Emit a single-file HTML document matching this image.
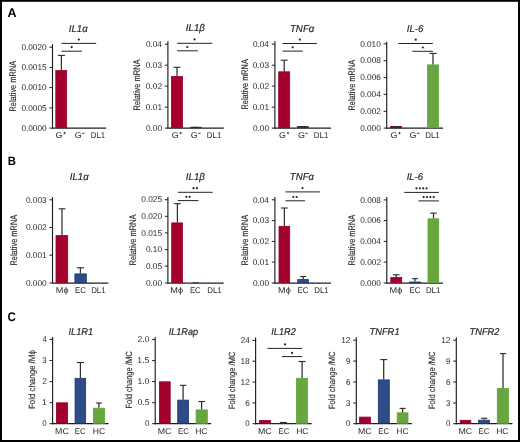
<!DOCTYPE html>
<html><head><meta charset="utf-8"><style>
html,body{margin:0;padding:0;background:#fff;}
body{width:520px;height:442px;overflow:hidden;position:relative;}
svg{position:absolute;left:0;top:0;font-family:"Liberation Sans", sans-serif;will-change:transform;text-rendering:geometricPrecision;}
text{stroke:none;}
text[font-style=italic]{stroke:#262626;stroke-width:0.18px;}
text.yl{stroke:#262626;stroke-width:0.12px;}
</style></head><body>
<svg width="520" height="442" viewBox="0 0 520 442">
<rect x="0" y="0" width="520" height="442" fill="#fff"/>
<line x1="52.50" y1="44.20" x2="52.50" y2="128.70" stroke="#1e1e1e" stroke-width="1.15"/>
<line x1="51.95" y1="128.10" x2="106.20" y2="128.10" stroke="#1e1e1e" stroke-width="1.25"/>
<line x1="49.40" y1="47.20" x2="52.50" y2="47.20" stroke="#1e1e1e" stroke-width="1.0"/>
<text x="21.38" y="49.95" font-size="8.3" textLength="25.24" lengthAdjust="spacingAndGlyphs" fill="#262626">0.0020</text>
<line x1="49.40" y1="67.40" x2="52.50" y2="67.40" stroke="#1e1e1e" stroke-width="1.0"/>
<text x="21.38" y="70.15" font-size="8.3" textLength="25.27" lengthAdjust="spacingAndGlyphs" fill="#262626">0.0015</text>
<line x1="49.40" y1="87.60" x2="52.50" y2="87.60" stroke="#1e1e1e" stroke-width="1.0"/>
<text x="21.38" y="90.35" font-size="8.3" textLength="25.24" lengthAdjust="spacingAndGlyphs" fill="#262626">0.0010</text>
<line x1="49.40" y1="107.90" x2="52.50" y2="107.90" stroke="#1e1e1e" stroke-width="1.0"/>
<text x="21.38" y="110.65" font-size="8.3" textLength="25.27" lengthAdjust="spacingAndGlyphs" fill="#262626">0.0005</text>
<line x1="49.40" y1="128.10" x2="52.50" y2="128.10" stroke="#1e1e1e" stroke-width="1.0"/>
<text x="21.38" y="130.85" font-size="8.3" textLength="25.24" lengthAdjust="spacingAndGlyphs" fill="#262626">0.0000</text>
<rect x="55.80" y="70.50" width="10.85" height="57.20" fill="#a4002e" stroke="#940028" stroke-width="0.8"/>
<line x1="61.40" y1="55.40" x2="61.40" y2="70.10" stroke="#2e2e2e" stroke-width="1.25"/>
<line x1="57.90" y1="55.40" x2="64.90" y2="55.40" stroke="#2a2a2a" stroke-width="1.1"/>
<text x="55.55" y="138.00" font-size="8.4" textLength="6.91" lengthAdjust="spacingAndGlyphs" fill="#262626">G</text>
<line x1="63.45" y1="133.10" x2="65.75" y2="133.10" stroke="#333" stroke-width="0.85"/>
<line x1="64.60" y1="131.90" x2="64.60" y2="134.30" stroke="#333" stroke-width="0.85"/>
<text x="74.75" y="138.00" font-size="8.4" textLength="6.91" lengthAdjust="spacingAndGlyphs" fill="#262626">G</text>
<line x1="82.10" y1="133.30" x2="84.70" y2="133.30" stroke="#333" stroke-width="0.9"/>
<text x="90.70" y="138.00" font-size="8.4" textLength="14.54" lengthAdjust="spacingAndGlyphs" fill="#262626">DL1</text>
<text x="68.82" y="31.60" font-size="9.9" font-style="italic" textLength="18.96" lengthAdjust="spacingAndGlyphs" fill="#262626">IL1α</text>
<text class="yl" transform="translate(16.20,111.00) rotate(-90)" x="-0.61" y="0" font-size="9.5" textLength="50.82" lengthAdjust="spacingAndGlyphs" fill="#262626">Relative mRNA</text>
<line x1="61.50" y1="43.40" x2="96.20" y2="43.40" stroke="#222" stroke-width="1.0"/>
<line x1="61.50" y1="51.20" x2="81.90" y2="51.20" stroke="#222" stroke-width="1.0"/>
<circle cx="78.80" cy="39.6" r="1.1" fill="#222"/>
<circle cx="71.70" cy="47.1" r="1.1" fill="#222"/>
<line x1="167.90" y1="41.30" x2="167.90" y2="128.70" stroke="#1e1e1e" stroke-width="1.15"/>
<line x1="167.35" y1="128.10" x2="223.80" y2="128.10" stroke="#1e1e1e" stroke-width="1.25"/>
<line x1="164.80" y1="44.20" x2="167.90" y2="44.20" stroke="#1e1e1e" stroke-width="1.0"/>
<text x="145.88" y="46.95" font-size="8.3" textLength="16.06" lengthAdjust="spacingAndGlyphs" fill="#262626">0.04</text>
<line x1="164.80" y1="65.20" x2="167.90" y2="65.20" stroke="#1e1e1e" stroke-width="1.0"/>
<text x="145.88" y="67.95" font-size="8.3" textLength="16.19" lengthAdjust="spacingAndGlyphs" fill="#262626">0.03</text>
<line x1="164.80" y1="86.10" x2="167.90" y2="86.10" stroke="#1e1e1e" stroke-width="1.0"/>
<text x="145.87" y="88.85" font-size="8.3" textLength="16.25" lengthAdjust="spacingAndGlyphs" fill="#262626">0.02</text>
<line x1="164.80" y1="107.10" x2="167.90" y2="107.10" stroke="#1e1e1e" stroke-width="1.0"/>
<text x="145.87" y="109.85" font-size="8.3" textLength="16.23" lengthAdjust="spacingAndGlyphs" fill="#262626">0.01</text>
<line x1="164.80" y1="128.10" x2="167.90" y2="128.10" stroke="#1e1e1e" stroke-width="1.0"/>
<text x="145.88" y="130.85" font-size="8.3" textLength="16.15" lengthAdjust="spacingAndGlyphs" fill="#262626">0.00</text>
<rect x="171.45" y="76.40" width="11.01" height="51.30" fill="#a4002e" stroke="#940028" stroke-width="0.8"/>
<rect x="189.90" y="126.90" width="11.90" height="1.20" fill="#1b3571"/>
<line x1="177.00" y1="67.30" x2="177.00" y2="76.00" stroke="#2e2e2e" stroke-width="1.25"/>
<line x1="173.50" y1="67.30" x2="180.50" y2="67.30" stroke="#2a2a2a" stroke-width="1.1"/>
<line x1="195.60" y1="127.30" x2="195.60" y2="127.30" stroke="#2e2e2e" stroke-width="1.25"/>
<line x1="192.20" y1="127.30" x2="199.00" y2="127.30" stroke="#2a2a2a" stroke-width="1.1"/>
<text x="171.65" y="138.00" font-size="8.4" textLength="6.91" lengthAdjust="spacingAndGlyphs" fill="#262626">G</text>
<line x1="179.55" y1="133.10" x2="181.85" y2="133.10" stroke="#333" stroke-width="0.85"/>
<line x1="180.70" y1="131.90" x2="180.70" y2="134.30" stroke="#333" stroke-width="0.85"/>
<text x="190.75" y="138.00" font-size="8.4" textLength="6.91" lengthAdjust="spacingAndGlyphs" fill="#262626">G</text>
<line x1="198.10" y1="133.30" x2="200.70" y2="133.30" stroke="#333" stroke-width="0.9"/>
<text x="206.80" y="138.00" font-size="8.4" textLength="14.54" lengthAdjust="spacingAndGlyphs" fill="#262626">DL1</text>
<text x="185.82" y="31.20" font-size="9.9" font-style="italic" textLength="19.02" lengthAdjust="spacingAndGlyphs" fill="#262626">IL1β</text>
<text class="yl" transform="translate(140.40,109.90) rotate(-90)" x="-0.61" y="0" font-size="9.5" textLength="51.03" lengthAdjust="spacingAndGlyphs" fill="#262626">Relative mRNA</text>
<line x1="177.20" y1="43.30" x2="212.40" y2="43.30" stroke="#222" stroke-width="1.0"/>
<line x1="177.20" y1="50.80" x2="197.80" y2="50.80" stroke="#222" stroke-width="1.0"/>
<circle cx="194.50" cy="39.4" r="1.1" fill="#222"/>
<circle cx="187.30" cy="47.1" r="1.1" fill="#222"/>
<line x1="274.90" y1="41.30" x2="274.90" y2="128.70" stroke="#1e1e1e" stroke-width="1.15"/>
<line x1="274.35" y1="128.10" x2="331.00" y2="128.10" stroke="#1e1e1e" stroke-width="1.25"/>
<line x1="271.80" y1="44.20" x2="274.90" y2="44.20" stroke="#1e1e1e" stroke-width="1.0"/>
<text x="252.88" y="46.95" font-size="8.3" textLength="16.06" lengthAdjust="spacingAndGlyphs" fill="#262626">0.04</text>
<line x1="271.80" y1="65.20" x2="274.90" y2="65.20" stroke="#1e1e1e" stroke-width="1.0"/>
<text x="252.88" y="67.95" font-size="8.3" textLength="16.19" lengthAdjust="spacingAndGlyphs" fill="#262626">0.03</text>
<line x1="271.80" y1="86.10" x2="274.90" y2="86.10" stroke="#1e1e1e" stroke-width="1.0"/>
<text x="252.87" y="88.85" font-size="8.3" textLength="16.25" lengthAdjust="spacingAndGlyphs" fill="#262626">0.02</text>
<line x1="271.80" y1="107.10" x2="274.90" y2="107.10" stroke="#1e1e1e" stroke-width="1.0"/>
<text x="252.87" y="109.85" font-size="8.3" textLength="16.23" lengthAdjust="spacingAndGlyphs" fill="#262626">0.01</text>
<line x1="271.80" y1="128.10" x2="274.90" y2="128.10" stroke="#1e1e1e" stroke-width="1.0"/>
<text x="252.88" y="130.85" font-size="8.3" textLength="16.15" lengthAdjust="spacingAndGlyphs" fill="#262626">0.00</text>
<rect x="278.70" y="71.80" width="11.00" height="55.90" fill="#a4002e" stroke="#940028" stroke-width="0.8"/>
<rect x="296.90" y="126.10" width="11.90" height="2.00" fill="#1b3571"/>
<line x1="284.20" y1="60.20" x2="284.20" y2="71.40" stroke="#2e2e2e" stroke-width="1.25"/>
<line x1="280.70" y1="60.20" x2="287.70" y2="60.20" stroke="#2a2a2a" stroke-width="1.1"/>
<line x1="302.60" y1="126.60" x2="302.60" y2="126.60" stroke="#2e2e2e" stroke-width="1.25"/>
<line x1="299.00" y1="126.60" x2="306.20" y2="126.60" stroke="#2a2a2a" stroke-width="1.1"/>
<text x="278.95" y="138.00" font-size="8.4" textLength="6.91" lengthAdjust="spacingAndGlyphs" fill="#262626">G</text>
<line x1="286.85" y1="133.10" x2="289.15" y2="133.10" stroke="#333" stroke-width="0.85"/>
<line x1="288.00" y1="131.90" x2="288.00" y2="134.30" stroke="#333" stroke-width="0.85"/>
<text x="297.95" y="138.00" font-size="8.4" textLength="6.91" lengthAdjust="spacingAndGlyphs" fill="#262626">G</text>
<line x1="305.30" y1="133.30" x2="307.90" y2="133.30" stroke="#333" stroke-width="0.9"/>
<text x="313.80" y="138.00" font-size="8.4" textLength="14.54" lengthAdjust="spacingAndGlyphs" fill="#262626">DL1</text>
<text x="289.93" y="31.60" font-size="9.9" font-style="italic" textLength="24.45" lengthAdjust="spacingAndGlyphs" fill="#262626">TNFα</text>
<text class="yl" transform="translate(248.10,108.90) rotate(-90)" x="-0.60" y="0" font-size="9.5" textLength="50.32" lengthAdjust="spacingAndGlyphs" fill="#262626">Relative mRNA</text>
<line x1="282.50" y1="43.50" x2="316.90" y2="43.50" stroke="#222" stroke-width="1.0"/>
<line x1="282.50" y1="51.10" x2="302.90" y2="51.10" stroke="#222" stroke-width="1.0"/>
<circle cx="299.80" cy="39.6" r="1.1" fill="#222"/>
<circle cx="292.70" cy="47.3" r="1.1" fill="#222"/>
<line x1="386.70" y1="41.80" x2="386.70" y2="128.70" stroke="#1e1e1e" stroke-width="1.15"/>
<line x1="386.15" y1="128.10" x2="443.00" y2="128.10" stroke="#1e1e1e" stroke-width="1.25"/>
<line x1="383.60" y1="43.90" x2="386.70" y2="43.90" stroke="#1e1e1e" stroke-width="1.0"/>
<text x="360.13" y="46.65" font-size="8.3" textLength="20.70" lengthAdjust="spacingAndGlyphs" fill="#262626">0.010</text>
<line x1="383.60" y1="60.70" x2="386.70" y2="60.70" stroke="#1e1e1e" stroke-width="1.0"/>
<text x="360.13" y="63.45" font-size="8.3" textLength="20.73" lengthAdjust="spacingAndGlyphs" fill="#262626">0.008</text>
<line x1="383.60" y1="77.60" x2="386.70" y2="77.60" stroke="#1e1e1e" stroke-width="1.0"/>
<text x="360.13" y="80.35" font-size="8.3" textLength="20.74" lengthAdjust="spacingAndGlyphs" fill="#262626">0.006</text>
<line x1="383.60" y1="94.40" x2="386.70" y2="94.40" stroke="#1e1e1e" stroke-width="1.0"/>
<text x="360.13" y="97.15" font-size="8.3" textLength="20.61" lengthAdjust="spacingAndGlyphs" fill="#262626">0.004</text>
<line x1="383.60" y1="111.30" x2="386.70" y2="111.30" stroke="#1e1e1e" stroke-width="1.0"/>
<text x="360.13" y="114.05" font-size="8.3" textLength="20.79" lengthAdjust="spacingAndGlyphs" fill="#262626">0.002</text>
<line x1="383.60" y1="128.10" x2="386.70" y2="128.10" stroke="#1e1e1e" stroke-width="1.0"/>
<text x="360.13" y="130.85" font-size="8.3" textLength="20.70" lengthAdjust="spacingAndGlyphs" fill="#262626">0.000</text>
<rect x="390.10" y="126.00" width="11.80" height="2.10" fill="#940028"/>
<rect x="427.45" y="64.90" width="11.01" height="62.80" fill="#69a641" stroke="#5ea634" stroke-width="0.8"/>
<line x1="433.00" y1="53.40" x2="433.00" y2="64.50" stroke="#2e2e2e" stroke-width="1.25"/>
<line x1="429.40" y1="53.40" x2="436.60" y2="53.40" stroke="#2a2a2a" stroke-width="1.1"/>
<line x1="395.80" y1="126.60" x2="395.80" y2="126.60" stroke="#2e2e2e" stroke-width="1.25"/>
<line x1="392.80" y1="126.60" x2="398.80" y2="126.60" stroke="#2a2a2a" stroke-width="1.1"/>
<text x="390.45" y="138.00" font-size="8.4" textLength="6.91" lengthAdjust="spacingAndGlyphs" fill="#262626">G</text>
<line x1="398.35" y1="133.10" x2="400.65" y2="133.10" stroke="#333" stroke-width="0.85"/>
<line x1="399.50" y1="131.90" x2="399.50" y2="134.30" stroke="#333" stroke-width="0.85"/>
<text x="409.55" y="138.00" font-size="8.4" textLength="6.91" lengthAdjust="spacingAndGlyphs" fill="#262626">G</text>
<line x1="416.90" y1="133.30" x2="419.50" y2="133.30" stroke="#333" stroke-width="0.9"/>
<text x="425.20" y="138.00" font-size="8.4" textLength="14.54" lengthAdjust="spacingAndGlyphs" fill="#262626">DL1</text>
<text x="406.72" y="31.80" font-size="9.9" font-style="italic" textLength="16.58" lengthAdjust="spacingAndGlyphs" fill="#262626">IL-6</text>
<text class="yl" transform="translate(355.10,109.90) rotate(-90)" x="-0.61" y="0" font-size="9.5" textLength="50.72" lengthAdjust="spacingAndGlyphs" fill="#262626">Relative mRNA</text>
<line x1="398.40" y1="43.50" x2="432.80" y2="43.50" stroke="#222" stroke-width="1.0"/>
<line x1="412.30" y1="51.30" x2="432.80" y2="51.30" stroke="#222" stroke-width="1.0"/>
<circle cx="415.70" cy="39.7" r="1.1" fill="#222"/>
<circle cx="422.80" cy="47.5" r="1.1" fill="#222"/>
<line x1="52.50" y1="197.10" x2="52.50" y2="283.60" stroke="#1e1e1e" stroke-width="1.15"/>
<line x1="51.95" y1="283.00" x2="108.30" y2="283.00" stroke="#1e1e1e" stroke-width="1.25"/>
<line x1="49.40" y1="199.80" x2="52.50" y2="199.80" stroke="#1e1e1e" stroke-width="1.0"/>
<text x="25.93" y="202.55" font-size="8.3" textLength="20.74" lengthAdjust="spacingAndGlyphs" fill="#262626">0.003</text>
<line x1="49.40" y1="227.50" x2="52.50" y2="227.50" stroke="#1e1e1e" stroke-width="1.0"/>
<text x="25.93" y="230.25" font-size="8.3" textLength="20.79" lengthAdjust="spacingAndGlyphs" fill="#262626">0.002</text>
<line x1="49.40" y1="255.20" x2="52.50" y2="255.20" stroke="#1e1e1e" stroke-width="1.0"/>
<text x="25.93" y="257.95" font-size="8.3" textLength="20.78" lengthAdjust="spacingAndGlyphs" fill="#262626">0.001</text>
<line x1="49.40" y1="283.00" x2="52.50" y2="283.00" stroke="#1e1e1e" stroke-width="1.0"/>
<text x="25.93" y="285.75" font-size="8.3" textLength="20.70" lengthAdjust="spacingAndGlyphs" fill="#262626">0.000</text>
<rect x="56.00" y="235.60" width="11.70" height="47.00" fill="#a4002e" stroke="#940028" stroke-width="0.8"/>
<rect x="74.90" y="273.90" width="11.40" height="8.70" fill="#2e4c85" stroke="#1b3571" stroke-width="0.8"/>
<line x1="62.00" y1="208.80" x2="62.00" y2="235.20" stroke="#2e2e2e" stroke-width="1.25"/>
<line x1="58.60" y1="208.80" x2="65.40" y2="208.80" stroke="#2a2a2a" stroke-width="1.1"/>
<line x1="80.40" y1="267.80" x2="80.40" y2="273.50" stroke="#2e2e2e" stroke-width="1.25"/>
<line x1="76.80" y1="267.80" x2="84.00" y2="267.80" stroke="#2a2a2a" stroke-width="1.1"/>
<text x="55.75" y="292.90" font-size="8.4" textLength="12.81" lengthAdjust="spacingAndGlyphs" fill="#262626">Mϕ</text>
<text x="75.06" y="292.90" font-size="8.4" textLength="10.84" lengthAdjust="spacingAndGlyphs" fill="#262626">EC</text>
<text x="91.15" y="292.90" font-size="8.4" textLength="14.54" lengthAdjust="spacingAndGlyphs" fill="#262626">DL1</text>
<text x="69.82" y="180.40" font-size="9.9" font-style="italic" textLength="18.96" lengthAdjust="spacingAndGlyphs" fill="#262626">IL1α</text>
<text class="yl" transform="translate(16.60,264.90) rotate(-90)" x="-0.61" y="0" font-size="9.5" textLength="50.72" lengthAdjust="spacingAndGlyphs" fill="#262626">Relative mRNA</text>
<line x1="167.90" y1="197.10" x2="167.90" y2="283.60" stroke="#1e1e1e" stroke-width="1.15"/>
<line x1="167.35" y1="283.00" x2="223.70" y2="283.00" stroke="#1e1e1e" stroke-width="1.25"/>
<line x1="164.80" y1="199.70" x2="167.90" y2="199.70" stroke="#1e1e1e" stroke-width="1.0"/>
<text x="141.33" y="202.45" font-size="8.3" textLength="20.72" lengthAdjust="spacingAndGlyphs" fill="#262626">0.025</text>
<line x1="164.80" y1="216.30" x2="167.90" y2="216.30" stroke="#1e1e1e" stroke-width="1.0"/>
<text x="141.33" y="219.05" font-size="8.3" textLength="20.70" lengthAdjust="spacingAndGlyphs" fill="#262626">0.020</text>
<line x1="164.80" y1="232.90" x2="167.90" y2="232.90" stroke="#1e1e1e" stroke-width="1.0"/>
<text x="141.33" y="235.65" font-size="8.3" textLength="20.72" lengthAdjust="spacingAndGlyphs" fill="#262626">0.015</text>
<line x1="164.80" y1="249.60" x2="167.90" y2="249.60" stroke="#1e1e1e" stroke-width="1.0"/>
<text x="145.88" y="252.35" font-size="8.3" textLength="16.15" lengthAdjust="spacingAndGlyphs" fill="#262626">0.10</text>
<line x1="164.80" y1="266.20" x2="167.90" y2="266.20" stroke="#1e1e1e" stroke-width="1.0"/>
<text x="145.88" y="268.95" font-size="8.3" textLength="16.17" lengthAdjust="spacingAndGlyphs" fill="#262626">0.05</text>
<line x1="164.80" y1="283.00" x2="167.90" y2="283.00" stroke="#1e1e1e" stroke-width="1.0"/>
<text x="145.88" y="285.75" font-size="8.3" textLength="16.15" lengthAdjust="spacingAndGlyphs" fill="#262626">0.00</text>
<rect x="171.70" y="222.90" width="10.80" height="59.70" fill="#a4002e" stroke="#940028" stroke-width="0.8"/>
<rect x="192.60" y="282.30" width="6.10" height="0.70" fill="#1b3571"/>
<line x1="177.40" y1="203.70" x2="177.40" y2="222.50" stroke="#2e2e2e" stroke-width="1.25"/>
<line x1="174.00" y1="203.70" x2="180.80" y2="203.70" stroke="#2a2a2a" stroke-width="1.1"/>
<text x="170.30" y="292.90" font-size="8.4" textLength="12.81" lengthAdjust="spacingAndGlyphs" fill="#262626">Mϕ</text>
<text x="189.91" y="292.90" font-size="8.4" textLength="10.84" lengthAdjust="spacingAndGlyphs" fill="#262626">EC</text>
<text x="207.20" y="292.90" font-size="8.4" textLength="14.54" lengthAdjust="spacingAndGlyphs" fill="#262626">DL1</text>
<text x="185.82" y="180.00" font-size="9.9" font-style="italic" textLength="19.02" lengthAdjust="spacingAndGlyphs" fill="#262626">IL1β</text>
<text class="yl" transform="translate(136.00,264.90) rotate(-90)" x="-0.61" y="0" font-size="9.5" textLength="51.03" lengthAdjust="spacingAndGlyphs" fill="#262626">Relative mRNA</text>
<line x1="177.90" y1="192.30" x2="212.70" y2="192.30" stroke="#222" stroke-width="1.0"/>
<line x1="177.90" y1="200.60" x2="198.40" y2="200.60" stroke="#222" stroke-width="1.0"/>
<circle cx="193.52" cy="188.2" r="1.1" fill="#222"/>
<circle cx="196.88" cy="188.2" r="1.1" fill="#222"/>
<circle cx="186.32" cy="196.8" r="1.1" fill="#222"/>
<circle cx="189.68" cy="196.8" r="1.1" fill="#222"/>
<line x1="274.90" y1="197.10" x2="274.90" y2="283.60" stroke="#1e1e1e" stroke-width="1.15"/>
<line x1="274.35" y1="283.00" x2="331.00" y2="283.00" stroke="#1e1e1e" stroke-width="1.25"/>
<line x1="271.80" y1="199.80" x2="274.90" y2="199.80" stroke="#1e1e1e" stroke-width="1.0"/>
<text x="252.88" y="202.55" font-size="8.3" textLength="16.06" lengthAdjust="spacingAndGlyphs" fill="#262626">0.04</text>
<line x1="271.80" y1="220.60" x2="274.90" y2="220.60" stroke="#1e1e1e" stroke-width="1.0"/>
<text x="252.88" y="223.35" font-size="8.3" textLength="16.19" lengthAdjust="spacingAndGlyphs" fill="#262626">0.03</text>
<line x1="271.80" y1="241.40" x2="274.90" y2="241.40" stroke="#1e1e1e" stroke-width="1.0"/>
<text x="252.87" y="244.15" font-size="8.3" textLength="16.25" lengthAdjust="spacingAndGlyphs" fill="#262626">0.02</text>
<line x1="271.80" y1="262.10" x2="274.90" y2="262.10" stroke="#1e1e1e" stroke-width="1.0"/>
<text x="252.87" y="264.85" font-size="8.3" textLength="16.23" lengthAdjust="spacingAndGlyphs" fill="#262626">0.01</text>
<line x1="271.80" y1="283.00" x2="274.90" y2="283.00" stroke="#1e1e1e" stroke-width="1.0"/>
<text x="252.88" y="285.75" font-size="8.3" textLength="16.15" lengthAdjust="spacingAndGlyphs" fill="#262626">0.00</text>
<rect x="279.00" y="226.30" width="10.70" height="56.30" fill="#a4002e" stroke="#940028" stroke-width="0.8"/>
<rect x="297.70" y="279.60" width="10.80" height="3.00" fill="#2e4c85" stroke="#1b3571" stroke-width="0.8"/>
<line x1="284.40" y1="208.00" x2="284.40" y2="225.90" stroke="#2e2e2e" stroke-width="1.25"/>
<line x1="281.00" y1="208.00" x2="287.80" y2="208.00" stroke="#2a2a2a" stroke-width="1.1"/>
<line x1="303.20" y1="276.50" x2="303.20" y2="279.20" stroke="#2e2e2e" stroke-width="1.25"/>
<line x1="300.30" y1="276.50" x2="306.10" y2="276.50" stroke="#2a2a2a" stroke-width="1.1"/>
<text x="278.10" y="292.90" font-size="8.4" textLength="12.81" lengthAdjust="spacingAndGlyphs" fill="#262626">Mϕ</text>
<text x="297.51" y="292.90" font-size="8.4" textLength="10.84" lengthAdjust="spacingAndGlyphs" fill="#262626">EC</text>
<text x="314.20" y="292.90" font-size="8.4" textLength="14.54" lengthAdjust="spacingAndGlyphs" fill="#262626">DL1</text>
<text x="289.84" y="180.30" font-size="9.9" font-style="italic" textLength="24.14" lengthAdjust="spacingAndGlyphs" fill="#262626">TNFα</text>
<text class="yl" transform="translate(248.00,264.90) rotate(-90)" x="-0.61" y="0" font-size="9.5" textLength="50.72" lengthAdjust="spacingAndGlyphs" fill="#262626">Relative mRNA</text>
<line x1="285.40" y1="191.90" x2="319.90" y2="191.90" stroke="#222" stroke-width="1.0"/>
<line x1="285.40" y1="200.80" x2="305.00" y2="200.80" stroke="#222" stroke-width="1.0"/>
<circle cx="302.50" cy="188.1" r="1.1" fill="#222"/>
<circle cx="293.32" cy="197.0" r="1.1" fill="#222"/>
<circle cx="296.68" cy="197.0" r="1.1" fill="#222"/>
<line x1="386.80" y1="197.10" x2="386.80" y2="283.60" stroke="#1e1e1e" stroke-width="1.15"/>
<line x1="386.25" y1="283.00" x2="443.00" y2="283.00" stroke="#1e1e1e" stroke-width="1.25"/>
<line x1="383.70" y1="199.90" x2="386.80" y2="199.90" stroke="#1e1e1e" stroke-width="1.0"/>
<text x="360.23" y="202.65" font-size="8.3" textLength="20.73" lengthAdjust="spacingAndGlyphs" fill="#262626">0.008</text>
<line x1="383.70" y1="220.60" x2="386.80" y2="220.60" stroke="#1e1e1e" stroke-width="1.0"/>
<text x="360.23" y="223.35" font-size="8.3" textLength="20.74" lengthAdjust="spacingAndGlyphs" fill="#262626">0.006</text>
<line x1="383.70" y1="241.40" x2="386.80" y2="241.40" stroke="#1e1e1e" stroke-width="1.0"/>
<text x="360.23" y="244.15" font-size="8.3" textLength="20.61" lengthAdjust="spacingAndGlyphs" fill="#262626">0.004</text>
<line x1="383.70" y1="262.10" x2="386.80" y2="262.10" stroke="#1e1e1e" stroke-width="1.0"/>
<text x="360.23" y="264.85" font-size="8.3" textLength="20.79" lengthAdjust="spacingAndGlyphs" fill="#262626">0.002</text>
<line x1="383.70" y1="283.00" x2="386.80" y2="283.00" stroke="#1e1e1e" stroke-width="1.0"/>
<text x="360.23" y="285.75" font-size="8.3" textLength="20.70" lengthAdjust="spacingAndGlyphs" fill="#262626">0.000</text>
<rect x="390.80" y="277.40" width="10.90" height="5.20" fill="#a4002e" stroke="#940028" stroke-width="0.8"/>
<rect x="409.10" y="281.60" width="11.70" height="1.40" fill="#1b3571"/>
<rect x="428.00" y="218.80" width="10.70" height="63.80" fill="#69a641" stroke="#5ea634" stroke-width="0.8"/>
<line x1="396.20" y1="274.80" x2="396.20" y2="277.00" stroke="#2e2e2e" stroke-width="1.25"/>
<line x1="392.90" y1="274.80" x2="399.50" y2="274.80" stroke="#2a2a2a" stroke-width="1.1"/>
<line x1="415.00" y1="278.70" x2="415.00" y2="281.60" stroke="#2e2e2e" stroke-width="1.25"/>
<line x1="411.90" y1="278.70" x2="418.10" y2="278.70" stroke="#2a2a2a" stroke-width="1.1"/>
<line x1="433.50" y1="213.10" x2="433.50" y2="218.40" stroke="#2e2e2e" stroke-width="1.25"/>
<line x1="430.20" y1="213.10" x2="436.80" y2="213.10" stroke="#2a2a2a" stroke-width="1.1"/>
<text x="389.50" y="292.90" font-size="8.4" textLength="12.81" lengthAdjust="spacingAndGlyphs" fill="#262626">Mϕ</text>
<text x="409.51" y="292.90" font-size="8.4" textLength="10.84" lengthAdjust="spacingAndGlyphs" fill="#262626">EC</text>
<text x="425.90" y="292.90" font-size="8.4" textLength="14.54" lengthAdjust="spacingAndGlyphs" fill="#262626">DL1</text>
<text x="406.73" y="180.30" font-size="9.9" font-style="italic" textLength="16.27" lengthAdjust="spacingAndGlyphs" fill="#262626">IL-6</text>
<text class="yl" transform="translate(355.00,264.90) rotate(-90)" x="-0.61" y="0" font-size="9.5" textLength="50.72" lengthAdjust="spacingAndGlyphs" fill="#262626">Relative mRNA</text>
<line x1="404.20" y1="192.40" x2="438.90" y2="192.40" stroke="#222" stroke-width="1.0"/>
<line x1="418.40" y1="200.90" x2="438.90" y2="200.90" stroke="#222" stroke-width="1.0"/>
<circle cx="416.48" cy="188.3" r="1.1" fill="#222"/>
<circle cx="419.82" cy="188.3" r="1.1" fill="#222"/>
<circle cx="423.18" cy="188.3" r="1.1" fill="#222"/>
<circle cx="426.52" cy="188.3" r="1.1" fill="#222"/>
<circle cx="423.68" cy="197.1" r="1.1" fill="#222"/>
<circle cx="427.02" cy="197.1" r="1.1" fill="#222"/>
<circle cx="430.38" cy="197.1" r="1.1" fill="#222"/>
<circle cx="433.72" cy="197.1" r="1.1" fill="#222"/>
<line x1="52.60" y1="337.00" x2="52.60" y2="424.30" stroke="#1e1e1e" stroke-width="1.15"/>
<line x1="52.05" y1="423.70" x2="108.70" y2="423.70" stroke="#1e1e1e" stroke-width="1.25"/>
<line x1="49.50" y1="339.40" x2="52.60" y2="339.40" stroke="#1e1e1e" stroke-width="1.0"/>
<text x="42.48" y="342.15" font-size="8.3" textLength="4.14" lengthAdjust="spacingAndGlyphs" fill="#262626">4</text>
<line x1="49.50" y1="360.50" x2="52.60" y2="360.50" stroke="#1e1e1e" stroke-width="1.0"/>
<text x="42.35" y="363.25" font-size="8.3" textLength="4.40" lengthAdjust="spacingAndGlyphs" fill="#262626">3</text>
<line x1="49.50" y1="381.60" x2="52.60" y2="381.60" stroke="#1e1e1e" stroke-width="1.0"/>
<text x="42.24" y="384.35" font-size="8.3" textLength="4.58" lengthAdjust="spacingAndGlyphs" fill="#262626">2</text>
<line x1="49.50" y1="402.70" x2="52.60" y2="402.70" stroke="#1e1e1e" stroke-width="1.0"/>
<text x="41.99" y="405.45" font-size="8.3" textLength="4.84" lengthAdjust="spacingAndGlyphs" fill="#262626">1</text>
<line x1="49.50" y1="423.70" x2="52.60" y2="423.70" stroke="#1e1e1e" stroke-width="1.0"/>
<text x="42.34" y="426.45" font-size="8.3" textLength="4.36" lengthAdjust="spacingAndGlyphs" fill="#262626">0</text>
<rect x="56.40" y="402.80" width="11.20" height="20.50" fill="#a4002e" stroke="#940028" stroke-width="0.8"/>
<rect x="75.05" y="378.30" width="10.60" height="45.00" fill="#2e4c85" stroke="#1b3571" stroke-width="0.8"/>
<rect x="93.40" y="408.20" width="11.20" height="15.10" fill="#69a641" stroke="#5ea634" stroke-width="0.8"/>
<line x1="80.40" y1="362.50" x2="80.40" y2="378.00" stroke="#2e2e2e" stroke-width="1.25"/>
<line x1="76.80" y1="362.50" x2="84.00" y2="362.50" stroke="#2a2a2a" stroke-width="1.1"/>
<line x1="98.90" y1="403.00" x2="98.90" y2="407.80" stroke="#2e2e2e" stroke-width="1.25"/>
<line x1="95.90" y1="403.00" x2="101.90" y2="403.00" stroke="#2a2a2a" stroke-width="1.1"/>
<text x="55.08" y="433.60" font-size="8.4" textLength="13.65" lengthAdjust="spacingAndGlyphs" fill="#262626">MC</text>
<text x="74.86" y="433.60" font-size="8.4" textLength="10.84" lengthAdjust="spacingAndGlyphs" fill="#262626">EC</text>
<text x="92.80" y="433.60" font-size="8.4" textLength="12.33" lengthAdjust="spacingAndGlyphs" fill="#262626">HC</text>
<text x="68.53" y="334.50" font-size="9.9" font-style="italic" textLength="24.65" lengthAdjust="spacingAndGlyphs" fill="#262626">IL1R1</text>
<text class="yl" transform="translate(34.80,408.40) rotate(-90)" x="-0.65" y="0" font-size="9.0" textLength="58.86" lengthAdjust="spacingAndGlyphs" fill="#262626">Fold change /Mϕ</text>
<line x1="155.20" y1="337.00" x2="155.20" y2="424.30" stroke="#1e1e1e" stroke-width="1.15"/>
<line x1="154.65" y1="423.70" x2="211.20" y2="423.70" stroke="#1e1e1e" stroke-width="1.25"/>
<line x1="152.10" y1="339.50" x2="155.20" y2="339.50" stroke="#1e1e1e" stroke-width="1.0"/>
<text x="137.63" y="342.25" font-size="8.3" textLength="11.70" lengthAdjust="spacingAndGlyphs" fill="#262626">2.0</text>
<line x1="152.10" y1="360.60" x2="155.20" y2="360.60" stroke="#1e1e1e" stroke-width="1.0"/>
<text x="137.39" y="363.35" font-size="8.3" textLength="11.97" lengthAdjust="spacingAndGlyphs" fill="#262626">1.5</text>
<line x1="152.10" y1="381.60" x2="155.20" y2="381.60" stroke="#1e1e1e" stroke-width="1.0"/>
<text x="137.40" y="384.35" font-size="8.3" textLength="11.94" lengthAdjust="spacingAndGlyphs" fill="#262626">1.0</text>
<line x1="152.10" y1="402.70" x2="155.20" y2="402.70" stroke="#1e1e1e" stroke-width="1.0"/>
<text x="137.72" y="405.45" font-size="8.3" textLength="11.63" lengthAdjust="spacingAndGlyphs" fill="#262626">0.5</text>
<line x1="152.10" y1="423.70" x2="155.20" y2="423.70" stroke="#1e1e1e" stroke-width="1.0"/>
<text x="144.94" y="426.45" font-size="8.3" textLength="4.36" lengthAdjust="spacingAndGlyphs" fill="#262626">0</text>
<rect x="159.40" y="381.80" width="10.80" height="41.50" fill="#a4002e" stroke="#940028" stroke-width="0.8"/>
<rect x="177.70" y="400.10" width="10.80" height="23.20" fill="#2e4c85" stroke="#1b3571" stroke-width="0.8"/>
<rect x="196.10" y="409.90" width="11.20" height="13.40" fill="#69a641" stroke="#5ea634" stroke-width="0.8"/>
<line x1="183.10" y1="385.30" x2="183.10" y2="399.70" stroke="#2e2e2e" stroke-width="1.25"/>
<line x1="179.80" y1="385.30" x2="186.40" y2="385.30" stroke="#2a2a2a" stroke-width="1.1"/>
<line x1="201.60" y1="401.50" x2="201.60" y2="409.50" stroke="#2e2e2e" stroke-width="1.25"/>
<line x1="198.30" y1="401.50" x2="204.90" y2="401.50" stroke="#2a2a2a" stroke-width="1.1"/>
<text x="157.68" y="433.60" font-size="8.4" textLength="13.65" lengthAdjust="spacingAndGlyphs" fill="#262626">MC</text>
<text x="178.01" y="433.60" font-size="8.4" textLength="10.84" lengthAdjust="spacingAndGlyphs" fill="#262626">EC</text>
<text x="195.15" y="433.60" font-size="8.4" textLength="12.33" lengthAdjust="spacingAndGlyphs" fill="#262626">HC</text>
<text x="168.64" y="334.70" font-size="9.9" font-style="italic" textLength="29.46" lengthAdjust="spacingAndGlyphs" fill="#262626">IL1Rap</text>
<text class="yl" transform="translate(131.60,408.00) rotate(-90)" x="-0.62" y="0" font-size="9.0" textLength="57.20" lengthAdjust="spacingAndGlyphs" fill="#262626">Fold change /MC</text>
<line x1="255.60" y1="337.50" x2="255.60" y2="424.30" stroke="#1e1e1e" stroke-width="1.15"/>
<line x1="255.05" y1="423.70" x2="311.70" y2="423.70" stroke="#1e1e1e" stroke-width="1.25"/>
<line x1="252.50" y1="340.40" x2="255.60" y2="340.40" stroke="#1e1e1e" stroke-width="1.0"/>
<text x="240.70" y="343.15" font-size="8.3" textLength="8.94" lengthAdjust="spacingAndGlyphs" fill="#262626">24</text>
<line x1="252.50" y1="361.20" x2="255.60" y2="361.20" stroke="#1e1e1e" stroke-width="1.0"/>
<text x="240.46" y="363.95" font-size="8.3" textLength="9.30" lengthAdjust="spacingAndGlyphs" fill="#262626">18</text>
<line x1="252.50" y1="382.00" x2="255.60" y2="382.00" stroke="#1e1e1e" stroke-width="1.0"/>
<text x="240.46" y="384.75" font-size="8.3" textLength="9.36" lengthAdjust="spacingAndGlyphs" fill="#262626">12</text>
<line x1="252.50" y1="402.90" x2="255.60" y2="402.90" stroke="#1e1e1e" stroke-width="1.0"/>
<text x="245.24" y="405.65" font-size="8.3" textLength="4.52" lengthAdjust="spacingAndGlyphs" fill="#262626">6</text>
<line x1="252.50" y1="423.70" x2="255.60" y2="423.70" stroke="#1e1e1e" stroke-width="1.0"/>
<text x="245.34" y="426.45" font-size="8.3" textLength="4.36" lengthAdjust="spacingAndGlyphs" fill="#262626">0</text>
<rect x="259.50" y="420.40" width="11.00" height="2.90" fill="#a4002e" stroke="#940028" stroke-width="0.8"/>
<rect x="277.90" y="422.90" width="12.00" height="0.80" fill="#1b3571"/>
<rect x="296.50" y="378.30" width="11.15" height="45.00" fill="#69a641" stroke="#5ea634" stroke-width="0.8"/>
<line x1="302.10" y1="361.50" x2="302.10" y2="377.90" stroke="#2e2e2e" stroke-width="1.25"/>
<line x1="298.50" y1="361.50" x2="305.70" y2="361.50" stroke="#2a2a2a" stroke-width="1.1"/>
<line x1="283.40" y1="422.50" x2="283.40" y2="422.50" stroke="#2e2e2e" stroke-width="1.25"/>
<line x1="280.00" y1="422.50" x2="286.80" y2="422.50" stroke="#2a2a2a" stroke-width="1.1"/>
<text x="257.98" y="433.60" font-size="8.4" textLength="13.65" lengthAdjust="spacingAndGlyphs" fill="#262626">MC</text>
<text x="278.51" y="433.60" font-size="8.4" textLength="10.84" lengthAdjust="spacingAndGlyphs" fill="#262626">EC</text>
<text x="296.15" y="433.60" font-size="8.4" textLength="12.32" lengthAdjust="spacingAndGlyphs" fill="#262626">HC</text>
<text x="271.34" y="334.50" font-size="9.9" font-style="italic" textLength="24.40" lengthAdjust="spacingAndGlyphs" fill="#262626">IL1R2</text>
<text class="yl" transform="translate(234.50,408.40) rotate(-90)" x="-0.62" y="0" font-size="9.0" textLength="57.20" lengthAdjust="spacingAndGlyphs" fill="#262626">Fold change /MC</text>
<line x1="267.50" y1="348.40" x2="302.30" y2="348.40" stroke="#222" stroke-width="1.0"/>
<line x1="281.90" y1="356.60" x2="302.30" y2="356.60" stroke="#222" stroke-width="1.0"/>
<circle cx="285.00" cy="344.4" r="1.1" fill="#222"/>
<circle cx="292.10" cy="352.9" r="1.1" fill="#222"/>
<line x1="356.30" y1="337.30" x2="356.30" y2="424.30" stroke="#1e1e1e" stroke-width="1.15"/>
<line x1="355.75" y1="423.70" x2="411.90" y2="423.70" stroke="#1e1e1e" stroke-width="1.25"/>
<line x1="353.20" y1="340.20" x2="356.30" y2="340.20" stroke="#1e1e1e" stroke-width="1.0"/>
<text x="341.16" y="342.95" font-size="8.3" textLength="9.36" lengthAdjust="spacingAndGlyphs" fill="#262626">12</text>
<line x1="353.20" y1="361.10" x2="356.30" y2="361.10" stroke="#1e1e1e" stroke-width="1.0"/>
<text x="345.97" y="363.85" font-size="8.3" textLength="4.52" lengthAdjust="spacingAndGlyphs" fill="#262626">9</text>
<line x1="353.20" y1="382.00" x2="356.30" y2="382.00" stroke="#1e1e1e" stroke-width="1.0"/>
<text x="345.94" y="384.75" font-size="8.3" textLength="4.52" lengthAdjust="spacingAndGlyphs" fill="#262626">6</text>
<line x1="353.20" y1="403.00" x2="356.30" y2="403.00" stroke="#1e1e1e" stroke-width="1.0"/>
<text x="346.05" y="405.75" font-size="8.3" textLength="4.40" lengthAdjust="spacingAndGlyphs" fill="#262626">3</text>
<line x1="353.20" y1="423.70" x2="356.30" y2="423.70" stroke="#1e1e1e" stroke-width="1.0"/>
<text x="346.04" y="426.45" font-size="8.3" textLength="4.36" lengthAdjust="spacingAndGlyphs" fill="#262626">0</text>
<rect x="359.50" y="417.10" width="11.00" height="6.20" fill="#a4002e" stroke="#940028" stroke-width="0.8"/>
<rect x="378.30" y="379.90" width="11.00" height="43.40" fill="#2e4c85" stroke="#1b3571" stroke-width="0.8"/>
<rect x="397.20" y="412.80" width="10.80" height="10.50" fill="#69a641" stroke="#5ea634" stroke-width="0.8"/>
<line x1="383.70" y1="359.60" x2="383.70" y2="379.50" stroke="#2e2e2e" stroke-width="1.25"/>
<line x1="380.20" y1="359.60" x2="387.20" y2="359.60" stroke="#2a2a2a" stroke-width="1.1"/>
<line x1="402.60" y1="408.40" x2="402.60" y2="412.40" stroke="#2e2e2e" stroke-width="1.25"/>
<line x1="399.60" y1="408.40" x2="405.60" y2="408.40" stroke="#2a2a2a" stroke-width="1.1"/>
<text x="357.98" y="433.60" font-size="8.4" textLength="13.65" lengthAdjust="spacingAndGlyphs" fill="#262626">MC</text>
<text x="378.31" y="433.60" font-size="8.4" textLength="10.84" lengthAdjust="spacingAndGlyphs" fill="#262626">EC</text>
<text x="396.25" y="433.60" font-size="8.4" textLength="12.32" lengthAdjust="spacingAndGlyphs" fill="#262626">HC</text>
<text x="369.46" y="334.50" font-size="9.9" font-style="italic" textLength="30.13" lengthAdjust="spacingAndGlyphs" fill="#262626">TNFR1</text>
<text class="yl" transform="translate(335.40,408.40) rotate(-90)" x="-0.62" y="0" font-size="9.0" textLength="57.61" lengthAdjust="spacingAndGlyphs" fill="#262626">Fold change /MC</text>
<line x1="456.30" y1="337.30" x2="456.30" y2="424.30" stroke="#1e1e1e" stroke-width="1.15"/>
<line x1="455.75" y1="423.70" x2="512.50" y2="423.70" stroke="#1e1e1e" stroke-width="1.25"/>
<line x1="453.20" y1="340.20" x2="456.30" y2="340.20" stroke="#1e1e1e" stroke-width="1.0"/>
<text x="441.16" y="342.95" font-size="8.3" textLength="9.36" lengthAdjust="spacingAndGlyphs" fill="#262626">12</text>
<line x1="453.20" y1="361.10" x2="456.30" y2="361.10" stroke="#1e1e1e" stroke-width="1.0"/>
<text x="445.97" y="363.85" font-size="8.3" textLength="4.52" lengthAdjust="spacingAndGlyphs" fill="#262626">9</text>
<line x1="453.20" y1="382.00" x2="456.30" y2="382.00" stroke="#1e1e1e" stroke-width="1.0"/>
<text x="445.94" y="384.75" font-size="8.3" textLength="4.52" lengthAdjust="spacingAndGlyphs" fill="#262626">6</text>
<line x1="453.20" y1="403.00" x2="456.30" y2="403.00" stroke="#1e1e1e" stroke-width="1.0"/>
<text x="446.05" y="405.75" font-size="8.3" textLength="4.40" lengthAdjust="spacingAndGlyphs" fill="#262626">3</text>
<line x1="453.20" y1="423.70" x2="456.30" y2="423.70" stroke="#1e1e1e" stroke-width="1.0"/>
<text x="446.04" y="426.45" font-size="8.3" textLength="4.36" lengthAdjust="spacingAndGlyphs" fill="#262626">0</text>
<rect x="460.20" y="420.30" width="10.60" height="3.00" fill="#a4002e" stroke="#940028" stroke-width="0.8"/>
<rect x="478.60" y="420.20" width="10.80" height="3.10" fill="#2e4c85" stroke="#1b3571" stroke-width="0.8"/>
<rect x="497.30" y="388.50" width="11.20" height="34.80" fill="#69a641" stroke="#5ea634" stroke-width="0.8"/>
<line x1="484.20" y1="418.30" x2="484.20" y2="419.80" stroke="#2e2e2e" stroke-width="1.25"/>
<line x1="481.00" y1="418.30" x2="487.40" y2="418.30" stroke="#2a2a2a" stroke-width="1.1"/>
<line x1="503.00" y1="353.60" x2="503.00" y2="388.20" stroke="#2e2e2e" stroke-width="1.25"/>
<line x1="499.80" y1="353.60" x2="506.20" y2="353.60" stroke="#2a2a2a" stroke-width="1.1"/>
<text x="458.48" y="433.60" font-size="8.4" textLength="13.65" lengthAdjust="spacingAndGlyphs" fill="#262626">MC</text>
<text x="478.51" y="433.60" font-size="8.4" textLength="10.84" lengthAdjust="spacingAndGlyphs" fill="#262626">EC</text>
<text x="496.15" y="433.60" font-size="8.4" textLength="12.32" lengthAdjust="spacingAndGlyphs" fill="#262626">HC</text>
<text x="469.46" y="334.50" font-size="9.9" font-style="italic" textLength="30.08" lengthAdjust="spacingAndGlyphs" fill="#262626">TNFR2</text>
<text class="yl" transform="translate(435.40,408.40) rotate(-90)" x="-0.62" y="0" font-size="9.0" textLength="57.61" lengthAdjust="spacingAndGlyphs" fill="#262626">Fold change /MC</text>
<text x="7.59" y="16.90" font-size="12.6" font-weight="bold" textLength="9.04" lengthAdjust="spacingAndGlyphs" fill="#000">A</text>
<text x="7.64" y="165.10" font-size="12.0" font-weight="bold" textLength="8.17" lengthAdjust="spacingAndGlyphs" fill="#000">B</text>
<text x="7.42" y="320.60" font-size="12.6" font-weight="bold" textLength="8.39" lengthAdjust="spacingAndGlyphs" fill="#000">C</text>
<rect x="1" y="0.8" width="518" height="440.2" fill="none" stroke="#000" stroke-width="2"/>
</svg>
</body></html>
